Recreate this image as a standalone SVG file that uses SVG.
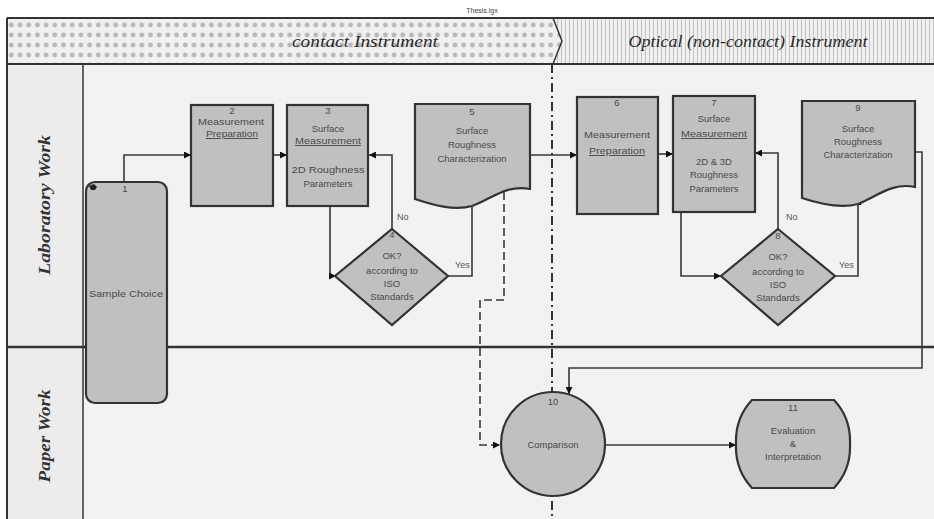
<svg xmlns="http://www.w3.org/2000/svg" width="934" height="519" viewBox="0 0 934 519">
<style>
.node{fill:#c0c0c0;stroke:#333;stroke-width:2.2}
.t{font-family:"Liberation Sans",Arial,sans-serif;font-size:9.5px;fill:#4a4a4a;text-anchor:middle}
.u{text-decoration:underline}
.c{fill:none;stroke:#383838;stroke-width:1.6}
.lbl{font-family:"Liberation Sans",Arial,sans-serif;font-size:9px;fill:#555}
.hdr{font-family:"Liberation Serif","Times New Roman",serif;font-style:italic;font-size:17px;fill:#2a2a2a;text-anchor:middle}
.lane{font-family:"Liberation Serif","Times New Roman",serif;font-style:italic;font-weight:bold;font-size:16px;fill:#333;text-anchor:middle}
</style>
<defs>
<pattern id="dots" width="8.7" height="10" patternUnits="userSpaceOnUse" x="7" y="20">
<rect width="8.7" height="10" fill="#f0f0f0"/>
<circle cx="4.3" cy="5" r="2.4" fill="#b8b8b8"/>
</pattern>
<pattern id="stripes" width="4" height="6" patternUnits="userSpaceOnUse">
<rect width="4" height="6" fill="#f0f0f0"/>
<rect x="1" width="1" height="6" fill="#c2c2c2"/>
</pattern>
<marker id="ah" viewBox="0 0 10 10" refX="10" refY="5" markerWidth="7" markerHeight="7" markerUnits="userSpaceOnUse" orient="auto">
<path d="M0,0 L10,5 L0,10 Z" fill="#111"/>
</marker>
</defs>
<rect width="934" height="519" fill="#ffffff"/>
<text x="482" y="13" font-family="Liberation Sans,Arial,sans-serif" font-size="7" fill="#444" text-anchor="middle">Thesis.igx</text>
<g id="frame">
<rect x="7" y="64" width="930" height="460" fill="#f2f2f2"/>
<rect x="7" y="64" width="76" height="460" fill="#ececec"/>
<rect x="7" y="18" width="930" height="46" fill="url(#stripes)"/>
<path d="M7,18 H553 L562,41 L553,64 H7 Z" fill="url(#dots)"/>
<path d="M553,18 L562,41 L553,64" fill="none" stroke="#333" stroke-width="1.5"/>
<line x1="7" y1="18" x2="934" y2="18" stroke="#333" stroke-width="2"/>
<line x1="7" y1="64" x2="934" y2="64" stroke="#333" stroke-width="2"/>
<line x1="7" y1="18" x2="7" y2="519" stroke="#333" stroke-width="2"/>
<line x1="83" y1="64" x2="83" y2="519" stroke="#333" stroke-width="1.5"/>
<line x1="7" y1="347" x2="934" y2="347" stroke="#333" stroke-width="2.5"/>
<text class="hdr" x="365" y="47" textLength="146" lengthAdjust="spacingAndGlyphs">contact Instrument</text>
<text class="hdr" x="748" y="47" textLength="239" lengthAdjust="spacingAndGlyphs">Optical (non-contact) Instrument</text>
<text class="lane" transform="translate(50,205) rotate(-90)" textLength="140" lengthAdjust="spacingAndGlyphs">Laboratory Work</text>
<text class="lane" transform="translate(50,436) rotate(-90)" textLength="93" lengthAdjust="spacingAndGlyphs">Paper Work</text>
<line x1="552" y1="64" x2="552" y2="519" stroke="#333" stroke-width="2" stroke-dasharray="9,4,2,4"/>
</g>
<g id="connectors">
<path class="c" d="M124,182 V155 H191" marker-end="url(#ah)"/>
<path class="c" d="M273,155 H287" marker-end="url(#ah)"/>
<path class="c" d="M330,206 V276 H336" marker-end="url(#ah)"/>
<path class="c" d="M392,229 V155 H369" marker-end="url(#ah)"/>
<path class="c" d="M448,276 H472 V194" marker-end="url(#ah)"/>
<path class="c" d="M530,155 H577" marker-end="url(#ah)"/>
<path class="c" d="M658,154 H673" marker-end="url(#ah)"/>
<path class="c" d="M681,212 V276 H721" marker-end="url(#ah)"/>
<path class="c" d="M778,229 V153 H755" marker-end="url(#ah)"/>
<path class="c" d="M835,276 H858 V198" marker-end="url(#ah)"/>
<path class="c" d="M915,152 H922 V368 H569 V394" marker-end="url(#ah)"/>
<path class="c" d="M606,445 H736" marker-end="url(#ah)"/>
<path class="c" d="M504,192 V300 H480 V445 H500" stroke-dasharray="8,4" marker-end="url(#ah)"/>
<text class="lbl" x="397" y="220">No</text>
<text class="lbl" x="455" y="268">Yes</text>
<text class="lbl" x="786" y="220">No</text>
<text class="lbl" x="839" y="268">Yes</text>
</g>
<g id="n1">
<rect class="node" x="86" y="182" width="81" height="221" rx="9"/>
<path d="M89,186 l5,-2 l3,3 l-2,3 l-4,0 z" fill="#222"/>
<text class="t" x="125" y="192" font-size="8">1</text>
<text class="t" x="126" y="297" textLength="74" lengthAdjust="spacingAndGlyphs">Sample Choice</text>
</g>
<g id="n2">
<rect class="node" x="191" y="105" width="82" height="101"/>
<text class="t" x="232" y="114">2</text>
<text class="t" x="231" y="125" textLength="66" lengthAdjust="spacingAndGlyphs">Measurement</text>
<text class="t u" x="232" y="137" textLength="52" lengthAdjust="spacingAndGlyphs">Preparation</text>
</g>
<g id="n3">
<rect class="node" x="287" y="105" width="81" height="101"/>
<text class="t" x="328" y="114">3</text>
<text class="t" x="328" y="132">Surface</text>
<text class="t u" x="328" y="144" textLength="66" lengthAdjust="spacingAndGlyphs">Measurement</text>
<text class="t" x="328" y="173" textLength="73" lengthAdjust="spacingAndGlyphs">2D Roughness</text>
<text class="t" x="328" y="187">Parameters</text>
</g>
<g id="n4">
<path class="node" d="M392,229 L448,276 L392,325 L335,276 Z"/>
<text class="t" x="392" y="238" font-size="8">4</text>
<text class="t" x="392" y="259">OK?</text>
<text class="t" x="392" y="274">according to</text>
<text class="t" x="392" y="287">ISO</text>
<text class="t" x="392" y="300">Standards</text>
</g>
<g id="n5">
<path class="node" d="M415,104 H530 V189 C506,184 490,200 472,206 C454,211 433,205 415,199 Z"/>
<text class="t" x="472" y="115">5</text>
<text class="t" x="472" y="134">Surface</text>
<text class="t" x="472" y="148">Roughness</text>
<text class="t" x="472" y="162">Characterization</text>
</g>
<g id="n6">
<rect class="node" x="577" y="97" width="81" height="117"/>
<text class="t" x="617" y="106">6</text>
<text class="t" x="617" y="138" textLength="66" lengthAdjust="spacingAndGlyphs">Measurement</text>
<text class="t u" x="617" y="154" textLength="56" lengthAdjust="spacingAndGlyphs">Preparation</text>
</g>
<g id="n7">
<rect class="node" x="673" y="96" width="82" height="116"/>
<text class="t" x="714" y="106">7</text>
<text class="t" x="714" y="122">Surface</text>
<text class="t u" x="714" y="137" textLength="66" lengthAdjust="spacingAndGlyphs">Measurement</text>
<text class="t" x="714" y="165">2D &amp; 3D</text>
<text class="t" x="714" y="178">Roughness</text>
<text class="t" x="714" y="192">Parameters</text>
</g>
<g id="n8">
<path class="node" d="M778,229 L835,276 L778,325 L721,276 Z"/>
<text class="t" x="778" y="239" font-size="8">8</text>
<text class="t" x="778" y="260">OK?</text>
<text class="t" x="778" y="275">according to</text>
<text class="t" x="778" y="288">ISO</text>
<text class="t" x="778" y="301">Standards</text>
</g>
<g id="n9">
<path class="node" d="M802,101 H915 V187 C892,182 876,197 858,204 C840,209 820,204 802,198 Z"/>
<text class="t" x="858" y="111">9</text>
<text class="t" x="858" y="132">Surface</text>
<text class="t" x="858" y="145">Roughness</text>
<text class="t" x="858" y="158">Characterization</text>
</g>
<g id="n10">
<circle class="node" cx="553" cy="444" r="52"/>
<text class="t" x="553" y="405">10</text>
<text class="t" x="553" y="448">Comparison</text>
</g>
<g id="n11">
<path class="node" d="M752,400 H834 Q851,418 850,444 Q851,470 834,488 H752 Q735,470 736,444 Q735,418 752,400 Z"/>
<text class="t" x="793" y="411">11</text>
<text class="t" x="793" y="434">Evaluation</text>
<text class="t" x="793" y="447">&amp;</text>
<text class="t" x="793" y="460">Interpretation</text>
</g>
</svg>
